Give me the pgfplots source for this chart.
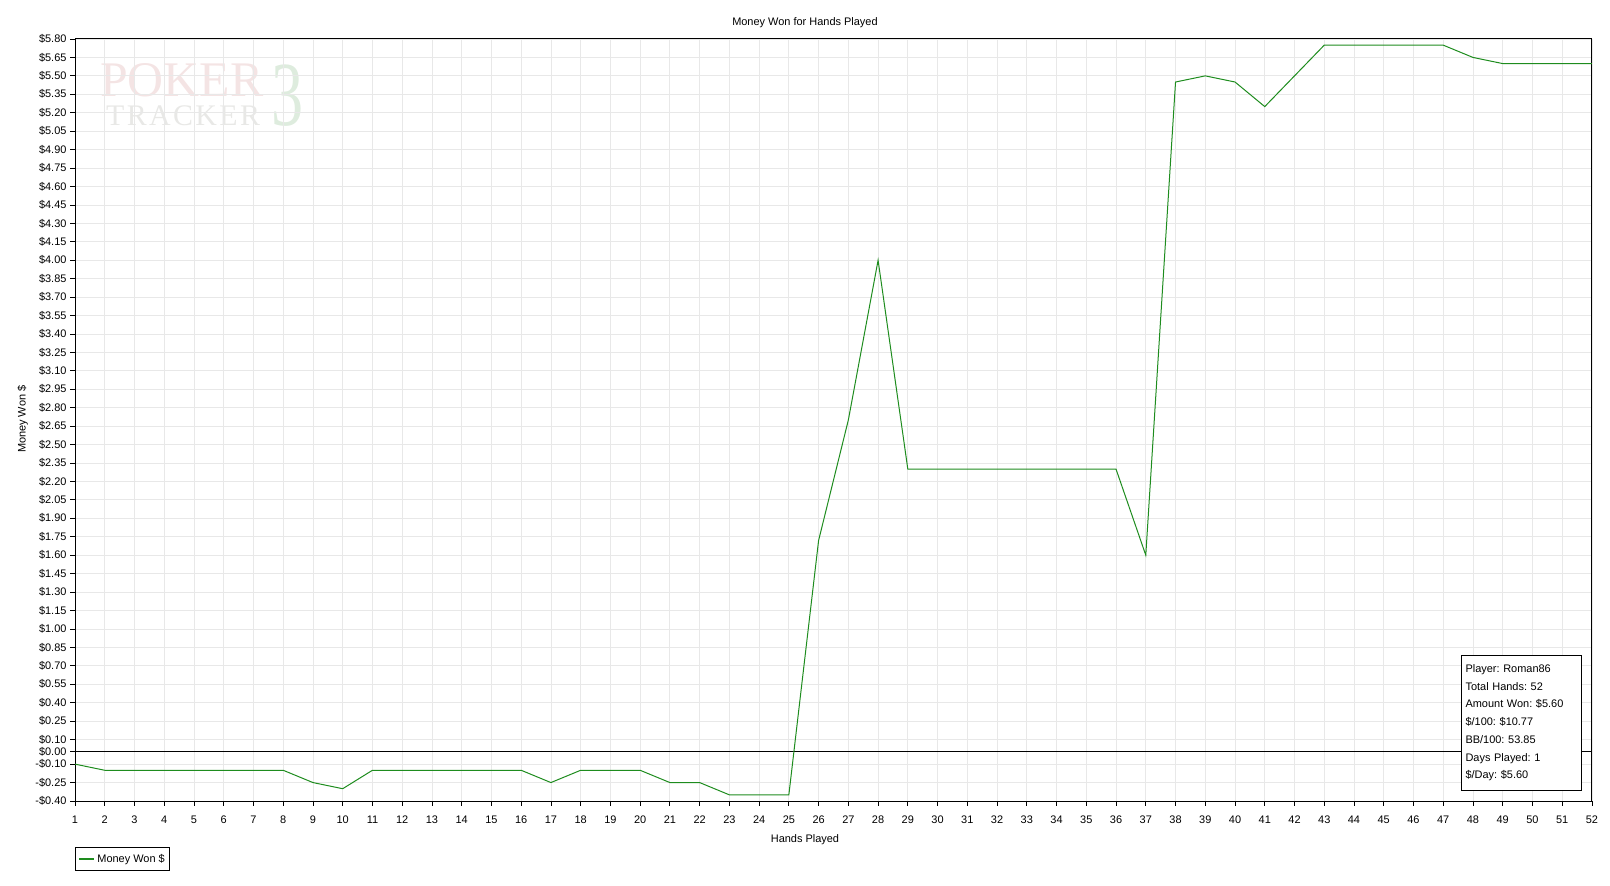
\documentclass[border=0pt]{standalone}
\usepackage{fontspec}
\setmainfont{Liberation Sans}
\newfontfamily\wmfont{Liberation Serif}
\newfontfamily\wmfontsp[LetterSpace=8]{Liberation Serif}
\usepackage{pgfplots}
\pgfplotsset{compat=1.18}
\definecolor{linegreen}{RGB}{30,140,30}
\definecolor{gridgray}{RGB}{232,232,232}
\definecolor{wmpink}{RGB}{244,228,228}
\definecolor{wmgray}{RGB}{232,232,230}
\definecolor{wmgreen}{RGB}{222,236,222}
\pgfplotstableread{
x y
1 -0.10
2 -0.15
3 -0.15
4 -0.15
5 -0.15
6 -0.15
7 -0.15
8 -0.15
9 -0.25
10 -0.30
11 -0.15
12 -0.15
13 -0.15
14 -0.15
15 -0.15
16 -0.15
17 -0.25
18 -0.15
19 -0.15
20 -0.15
21 -0.25
22 -0.25
23 -0.35
24 -0.35
25 -0.35
26 1.72
27 2.70
28 4.00
29 2.30
30 2.30
31 2.30
32 2.30
33 2.30
34 2.30
35 2.30
36 2.30
37 1.60
38 5.45
39 5.50
40 5.45
41 5.25
42 5.50
43 5.75
44 5.75
45 5.75
46 5.75
47 5.75
48 5.65
49 5.60
50 5.60
51 5.60
52 5.60
}\money
\begin{document}
\frenchspacing
\fontsize{11}{13}\selectfont
\begin{tikzpicture}
\path[use as bounding box] (-75bp,-85bp) rectangle (1535bp,801bp);
% watermark
\node[anchor=base west, inner sep=0, text depth=0pt, text=wmgreen, font=\wmfont\fontsize{92}{92}\selectfont, xscale=0.7] at (196bp,675bp) {3};
\node[anchor=base west, inner sep=0, text depth=0pt, text=wmpink, font=\wmfont\fontsize{50}{50}\selectfont] at (25bp,704bp) {POKER};
\node[anchor=base west, inner sep=0, text depth=0pt, text height=20bp, text=wmgray, font=\wmfontsp\fontsize{30}{30}\selectfont] at (31bp,675bp) {TRACKER};
\begin{axis}[
  at={(0,0)}, anchor=south west,
  scale only axis, width=1517bp, height=762bp,
  xmin=1, xmax=52, ymin=-0.4, ymax=5.8,
  xtick={1,...,52},
  ytick={-0.40,-0.25,-0.10,0,0.10,0.25,0.40,0.55,0.70,0.85,1.00,1.15,1.30,1.45,1.60,1.75,1.90,2.05,2.20,2.35,2.50,2.65,2.80,2.95,3.10,3.25,3.40,3.55,3.70,3.85,4.00,4.15,4.30,4.45,4.60,4.75,4.90,5.05,5.20,5.35,5.50,5.65,5.80},
  yticklabels={-\$0.40,-\$0.25,-\$0.10,\$0.00,\$0.10,\$0.25,\$0.40,\$0.55,\$0.70,\$0.85,\$1.00,\$1.15,\$1.30,\$1.45,\$1.60,\$1.75,\$1.90,\$2.05,\$2.20,\$2.35,\$2.50,\$2.65,\$2.80,\$2.95,\$3.10,\$3.25,\$3.40,\$3.55,\$3.70,\$3.85,\$4.00,\$4.15,\$4.30,\$4.45,\$4.60,\$4.75,\$4.90,\$5.05,\$5.20,\$5.35,\$5.50,\$5.65,\$5.80},
  /pgf/number format/assume math mode=true,
  xticklabel style={yshift=-6bp},
  grid=major, grid style={gridgray, line width=0.8bp},
  axis line style={black, line width=1bp},
  tick pos=left, tick align=outside, major tick length=4.7bp,
  tick style={black, line width=0.8bp},
  title={Money Won for Hands Played},
  title style={at={(axis description cs:0.4812,1.0136)}, anchor=center, inner sep=0},
  xlabel={Hands Played},
  xlabel style={at={(axis description cs:0.4812,-0.0511)}, anchor=center, inner sep=0},
  ylabel={Money Won \$},
  ylabel style={at={(axis description cs:-0.0345,0.501)}, anchor=center, inner sep=0},
  legend style={at={(axis description cs:0,-0.0604)}, anchor=north west, draw=black, line width=0.8bp, inner xsep=2.5bp, inner ysep=4.5bp, cells={anchor=west}},
  legend image code/.code={\draw[#1, line width=2.5bp] (0bp,0bp) -- (15bp,0bp);},
]
\draw[black, line width=1bp] (axis cs:1,0) -- (axis cs:52,0);
\addplot[linegreen, line width=1bp, mark=none] table[x=x, y=y] {\money};
\addlegendentry{Money Won \$}
\node[draw=black, line width=0.8bp, fill=white, anchor=south east, align=left, inner xsep=4bp, inner ysep=9.5bp, text width=112bp, font=\fontsize{11}{17.8}\selectfont] at ([shift={(-10bp,10bp)}]rel axis cs:1,0) {Player: Roman86\\Total Hands: 52\\Amount Won: \$5.60\\\$/100: \$10.77\\BB/100: 53.85\\Days Played: 1\\\$/Day: \$5.60};
\end{axis}
\end{tikzpicture}
\end{document}
